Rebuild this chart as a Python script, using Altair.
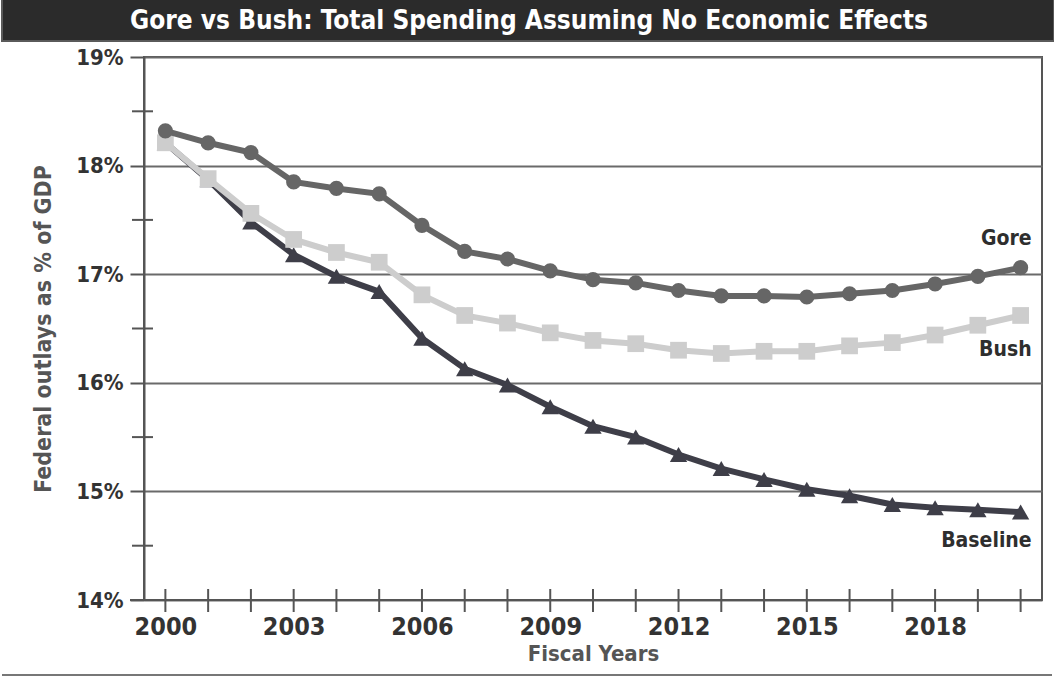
import altair as alt
import pandas as pd

# Federal outlays as % of GDP, fiscal years 2000-2020
years = list(range(2000, 2021))
gore = [18.32, 18.21, 18.12, 17.85, 17.79, 17.74, 17.45, 17.21, 17.14, 17.03, 16.95,
        16.92, 16.85, 16.80, 16.80, 16.79, 16.82, 16.85, 16.91, 16.98, 17.06]
bush = [18.21, 17.88, 17.56, 17.32, 17.20, 17.11, 16.81, 16.62, 16.55, 16.46, 16.39,
        16.36, 16.30, 16.27, 16.29, 16.29, 16.34, 16.37, 16.44, 16.53, 16.62]
baseline = [18.21, 17.87, 17.48, 17.18, 16.98, 16.84, 16.41, 16.13, 15.98, 15.78, 15.60,
            15.50, 15.34, 15.21, 15.11, 15.02, 14.96, 14.88, 14.85, 14.83, 14.81]

series_names = ["Baseline", "Bush", "Gore"]
series_colors = {"Baseline": "#3e3e48", "Bush": "#cdcdcd", "Gore": "#666666"}
series_shapes = {"Baseline": "triangle-up", "Bush": "square", "Gore": "circle"}
series_sizes = {"Baseline": 300, "Bush": 280, "Gore": 230}

title_text = "Gore vs Bush:  Total Spending Assuming No Economic Effects"
x_label_years = [2000, 2003, 2006, 2009, 2012, 2015, 2018]
y_ticks = [14, 15, 16, 17, 18, 19]
y_minor = [14.5, 15.5, 16.5, 17.5, 18.5]

FONT = "Liberation Sans Narrow, DejaVu Sans Condensed, Arial Narrow, sans-serif"

W, H = 898, 543
PAD_L, PAD_T, PAD_R, PAD_B = 144, 57, 12, 77

rows = []
for name, vals in zip(["Gore", "Bush", "Baseline"], [gore, bush, baseline]):
    for y, v in zip(years, vals):
        rows.append({"year": y, "pct": v, "series": name})
df = pd.DataFrame(rows)

xs = alt.Scale(domain=[1999.5, 2020.5], nice=False, zero=False)
ys = alt.Scale(domain=[14, 19], nice=False, zero=False)

base = alt.Chart(df).encode(
    x=alt.X("year:Q", scale=xs,
            axis=alt.Axis(values=x_label_years, format="d", title="Fiscal Years",
                          labelFont=FONT, labelFontSize=25, labelFontWeight="bold",
                          labelColor="#333333", labelPadding=14, ticks=False,
                          domain=False, grid=False, titleFont=FONT, titleFontSize=22,
                          titleFontWeight="bold", titleColor="#555555", titlePadding=4)),
    y=alt.Y("pct:Q", scale=ys,
            axis=alt.Axis(values=y_ticks, labelExpr="datum.value + '%'",
                          title="Federal outlays as % of GDP",
                          labelFont=FONT, labelFontSize=22, labelFontWeight="bold",
                          labelColor="#333333", labelPadding=7, tickSize=14,
                          tickColor="#555555", tickWidth=2, domain=True,
                          domainColor="#555555", domainWidth=2, grid=True,
                          gridColor="#6a6a6a", gridWidth=2,
                          titleFont=FONT, titleFontSize=23, titleFontWeight="bold",
                          titleColor="#555555", titlePadding=20)),
)

layers = []
for name in series_names:
    sub = base.transform_filter(alt.datum.series == name)
    layers.append(sub.mark_line(color=series_colors[name], strokeWidth=6))
    layers.append(sub.mark_point(shape=series_shapes[name], filled=True, opacity=1,
                                 size=series_sizes[name], color=series_colors[name]))

# crossing tick marks on the year axis
tick_df = pd.DataFrame({"year": years})
x_ticks = alt.Chart(tick_df).mark_rule(color="#555555", strokeWidth=2).encode(
    x=alt.X("year:Q", scale=xs), y=alt.value(H - 11), y2=alt.value(H + 12))

# half-percent ticks crossing the left axis
minor_df = pd.DataFrame({"pct": y_minor})
y_minor_ticks = alt.Chart(minor_df).mark_rule(color="#555555", strokeWidth=2).encode(
    y=alt.Y("pct:Q", scale=ys), x=alt.value(-12), x2=alt.value(9))

# bottom axis line extends left past the frame
x_axis_line = alt.Chart(tick_df).mark_rule(color="#555555", strokeWidth=2).encode(
    x=alt.value(-14), x2=alt.value(W), y=alt.value(H))

# series labels anchored on the last point of each line
last = df[df.year == 2020].copy()
offsets = {"Gore": -29, "Bush": 35, "Baseline": 29}
label_layers = []
for name in ["Gore", "Bush", "Baseline"]:
    label_layers.append(
        alt.Chart(last[last.series == name]).mark_text(
            font=FONT, fontSize=21, fontWeight="bold", color="#2e2e2e",
            align="right", baseline="middle", dx=11, dy=offsets[name]
        ).encode(x=alt.X("year:Q", scale=xs), y=alt.Y("pct:Q", scale=ys),
                 text="series:N"))

# dark title band across the top
band = alt.Chart(tick_df).mark_rect(color="#2b2b2b", stroke="#5a5a5a", strokeWidth=2).encode(
    x=alt.value(-PAD_L + 2), x2=alt.value(W + PAD_R), y=alt.value(-PAD_T - 2),
    y2=alt.value(-16))
title_mark = alt.Chart(pd.DataFrame({"t": [title_text]})).mark_text(
    font=FONT, fontSize=26, fontWeight="bold", color="white", align="center",
    baseline="middle").encode(x=alt.value(385), y=alt.value(-36), text="t:N")

# rule along the bottom of the figure
bottom_rule = alt.Chart(tick_df).mark_rule(color="#777777", strokeWidth=2).encode(
    x=alt.value(-PAD_L + 2), x2=alt.value(W + PAD_R - 2), y=alt.value(H + 75))

chart = alt.layer(
    band, title_mark, bottom_rule, x_axis_line, x_ticks, y_minor_ticks,
    *layers, *label_layers
).properties(
    width=W, height=H,
    autosize=alt.AutoSizeParams(type="none"),
    padding={"left": PAD_L, "top": PAD_T, "right": PAD_R, "bottom": PAD_B},
    background="white",
).configure_view(stroke="#555555", strokeWidth=2)

chart.save("out.html", embed_options={"renderer": "svg", "actions": False})
